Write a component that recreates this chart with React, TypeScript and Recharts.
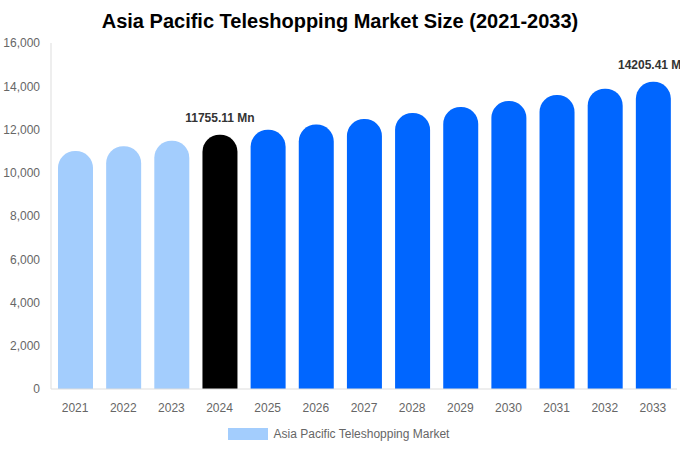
import React from 'react';
import { BarChart, Bar, XAxis, YAxis, Cell, Legend } from 'recharts';

const years = ['2021', '2022', '2023', '2024', '2025', '2026', '2027', '2028', '2029', '2030', '2031', '2032', '2033'];
const marketSize = [11010, 11230, 11480, 11755.11, 11990, 12230, 12490, 12760, 13040, 13320, 13600, 13890, 14205.41];
const labelledYears = ['2024', '2033'];
const yTicks = [0, 2000, 4000, 6000, 8000, 10000, 12000, 14000, 16000];

const data = years.map((year, i) => ({ year, value: marketSize[i] }));

const FONT = 'Arial, "Liberation Sans", sans-serif';

const barColor = (year: string) => {
  const y = Number(year);
  if (y < 2024) return '#a3cdfd';
  if (y === 2024) return '#000000';
  return '#0066ff';
};

const renderLabel = (props: any) => {
  const { x, y, width, index } = props;
  if (!labelledYears.includes(years[index])) return null;
  return (
    <text
      x={x + width / 2}
      y={y - 13}
      textAnchor="middle"
      fill="#333"
      fontSize={12}
      fontWeight="bold"
      fontFamily={FONT}
    >
      {marketSize[index].toFixed(2)} Mn
    </text>
  );
};

const renderLegend = () => (
  <div style={{ display: 'flex', justifyContent: 'center', alignItems: 'center', fontFamily: FONT, paddingTop: 8 }}>
    <span style={{ display: 'inline-block', width: 40, height: 12, background: '#a3cdfd', marginRight: 6 }} />
    <span style={{ fontSize: 12, color: '#666' }}>Asia Pacific Teleshopping Market</span>
  </div>
);

export default function App() {
  return (
    <div style={{ position: 'absolute', left: 0, top: 0, width: 680, height: 450, background: '#fff', fontFamily: FONT }}>
      <div
        style={{
          position: 'absolute',
          top: 8,
          left: 0,
          width: 680,
          textAlign: 'center',
          fontSize: 20,
          fontWeight: 'bold',
          color: '#000',
          lineHeight: '26px',
        }}
      >
        Asia Pacific Teleshopping Market Size (2021-2033)
      </div>
      <BarChart width={680} height={450} data={data} margin={{ top: 43, right: 3, left: 0, bottom: 7 }}>
        <XAxis
          dataKey="year"
          tickLine={false}
          axisLine={{ stroke: '#ddd' }}
          tick={{ fill: '#666', fontSize: 12, fontFamily: FONT }}
          tickMargin={8}
          height={30}
        />
        <YAxis
          domain={[0, 16000]}
          ticks={yTicks}
          width={51}
          tickLine={false}
          axisLine={{ stroke: '#ddd' }}
          tick={{ fill: '#666', fontSize: 12, fontFamily: FONT }}
          tickFormatter={(v: number) => v.toLocaleString('en-US')}
          tickMargin={5}
        />
        <Legend verticalAlign="bottom" content={renderLegend} height={24} />
        <Bar dataKey="value" barSize={35} radius={[17, 17, 0, 0]} isAnimationActive={false} label={renderLabel}>
          {data.map((d) => (
            <Cell key={d.year} fill={barColor(d.year)} />
          ))}
        </Bar>
      </BarChart>
    </div>
  );
}
